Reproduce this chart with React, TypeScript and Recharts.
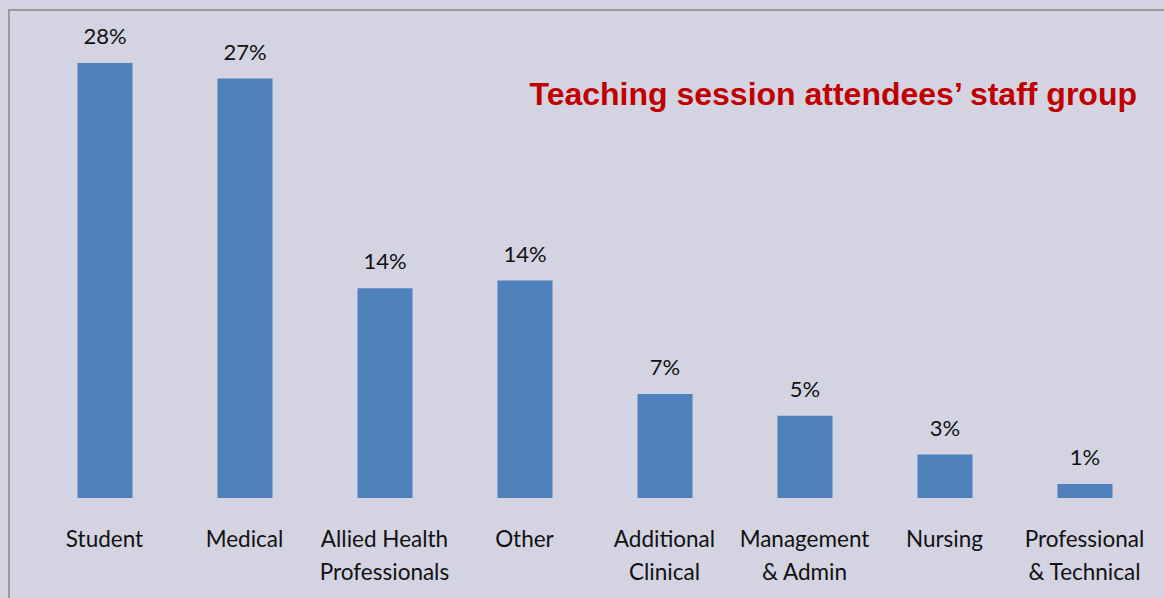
import { BarChart, Bar, XAxis, YAxis, LabelList } from 'recharts'

const categories = [
  'Student',
  'Medical',
  'Allied Health\nProfessionals',
  'Other',
  'Additional\nClinical',
  'Management\n& Admin',
  'Nursing',
  'Professional\n& Technical',
]
const shares = [28, 27, 13.5, 14, 6.7, 5.3, 2.8, 0.9]
const shareLabels = ['28%', '27%', '14%', '14%', '7%', '5%', '3%', '1%']

const data = categories.map((name, i) => ({ name, value: shares[i], label: shareLabels[i] }))

const font = 'Lato, "Open Sans", sans-serif'

const CategoryTick = (props: any) => {
  const { x, y, payload } = props
  const lines = String(payload.value).split('\n')
  return (
    <text x={x} y={y} textAnchor="middle" fill="#111" fontFamily={font} fontSize={22.5}>
      {lines.map((line: string, i: number) => (
        <tspan key={i} x={x} dy={i === 0 ? 41 : 33}>{line}</tspan>
      ))}
    </text>
  )
}

const App = () => {
  return (
    <div style={{ position: 'absolute', left: 0, top: 0, width: 1164, height: 598, background: '#D3D3E1', overflow: 'hidden' }}>
      <div style={{
        position: 'absolute', left: 8, top: 9, width: 1200, height: 700,
        borderLeft: '2px solid #999', borderTop: '2px solid #999'
      }} />
      <div style={{
        position: 'absolute', right: 27, top: 76,
        fontFamily: '"Liberation Sans", Arial, sans-serif', fontWeight: 'bold',
        fontSize: 32, color: '#C00000', whiteSpace: 'nowrap'
      }}>
        Teaching session attendees’ staff group
      </div>
      <div style={{ position: 'absolute', left: 0, top: 0 }}>
        <BarChart width={1164} height={598} data={data} margin={{ top: 63, right: 9.5, left: 34.5, bottom: 0 }}>
          <XAxis dataKey="name" height={100} axisLine={false} tickLine={false} interval={0} tick={<CategoryTick />} />
          <YAxis hide domain={[0, 28]} />
          <Bar dataKey="value" fill="#4F81BD" barSize={55} isAnimationActive={false}>
            <LabelList dataKey="label" position="top" offset={19} fill="#111" fontFamily={font} fontSize={22} />
          </Bar>
        </BarChart>
      </div>
    </div>
  )
}

export default App
